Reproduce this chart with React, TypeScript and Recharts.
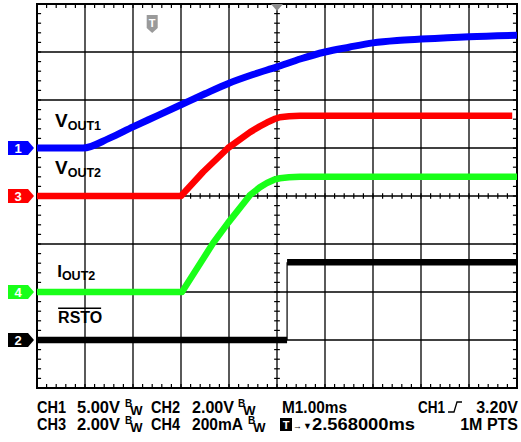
import React from "react";
import { LineChart, Line, XAxis, YAxis, ReferenceLine, ReferenceDot, ReferenceArea } from "recharts";

// ─── Data (screen divisions: 1 ms/div across, 0..8 div up from the bottom) ───
const VOUT1_T = [0, 0.96, 1.5, 2.0, 2.5, 3.0, 3.5, 4.0, 4.5, 5.0, 5.5, 6.0, 6.5, 7.0, 7.5, 8.0, 9.0, 10.0];
const VOUT1_V = [5.0, 5.0, 5.2, 5.44, 5.67, 5.9, 6.13, 6.35, 6.53, 6.69, 6.86, 7.0, 7.1, 7.19, 7.24, 7.27, 7.32, 7.35];

const VOUT2_T = [0, 3.0, 3.46, 3.98, 4.44, 4.64, 4.79, 4.94, 5.06, 5.25, 5.48, 9.9];
const VOUT2_V = [4.0, 4.0, 4.5, 5.0, 5.33, 5.45, 5.53, 5.6, 5.64, 5.66, 5.67, 5.67];

const IOUT2_T = [0, 3.02, 3.67, 3.98, 4.44, 4.64, 4.79, 4.94, 5.06, 5.25, 5.48, 10.0];
const IOUT2_V = [2.0, 2.0, 3.02, 3.44, 4.02, 4.18, 4.27, 4.34, 4.37, 4.39, 4.4, 4.4];

const RSTO_T = [0, 5.21, 5.21, 10.0];
const RSTO_V = [1.0, 1.0, 2.62, 2.62];

// channel ground markers on the left edge
const CH_NAMES = ["1", "3", "4", "2"];
const CH_LEVELS = [5.0, 4.0, 2.0, 1.0];
const CH_COLORS = ["#0000ff", "#ff0000", "#19ff19", "#000000"];

const TRIG_POS = 2.4;

// ─── Helpers ─────────────────────────────────────────────────────────────────
const zip = (t: number[], v: number[]) => t.map((x, i) => ({ t: x, v: v[i] }));

const FONT = "'Liberation Sans', Arial, sans-serif";
const GRID_X = [1, 2, 3, 4, 5, 6, 7, 8, 9];
const GRID_Y = [1, 2, 3, 4, 5, 6, 7];
const MINOR_X: number[] = [];
for (let i = 1; i < 50; i++) MINOR_X.push(i / 5);
const MINOR_Y: number[] = [];
for (let i = 1; i < 40; i++) MINOR_Y.push(i / 5);

const TL = 0.085; // minor tick length in div (~4px)

function chanMarker(name: string, color: string) {
  return (p: any) => {
    const { cx, cy } = p;
    return (
      <g>
        <polygon
          points={`${cx - 29},${cy - 7} ${cx - 9},${cy - 7} ${cx - 3},${cy} ${cx - 9},${cy + 7} ${cx - 29},${cy + 7}`}
          fill={color}
        />
        <text x={cx - 19} y={cy + 5} textAnchor="middle" fill="#fff" fontFamily={FONT} fontWeight={700} fontSize={13}>
          {name}
        </text>
      </g>
    );
  };
}

function traceLabel(main: string, sub: string, size: number, overline = false) {
  return (p: any) => {
    const { cx, cy } = p;
    return (
      <g>
        <text x={cx} y={cy} fontFamily={FONT} fontWeight={700} fontSize={size} fill="#000">
          {main}
          {sub ? <tspan fontSize={12.5} dy={3}>{sub}</tspan> : null}
        </text>
        {overline ? <line x1={cx} x2={cx + 43} y1={cy - 15} y2={cy - 15} stroke="#000" strokeWidth={1.5} /> : null}
      </g>
    );
  };
}

const trigMarker = (p: any) => {
  const { cx, cy } = p;
  return (
    <g>
      <polygon
        points={`${cx - 5.5},${cy + 11} ${cx + 5.5},${cy + 11} ${cx + 5.5},${cy + 24} ${cx},${cy + 29} ${cx - 5.5},${cy + 24}`}
        fill="#9a9a9a"
      />
      <text x={cx} y={cy + 23} textAnchor="middle" fill="#fff" fontFamily={FONT} fontWeight={700} fontSize={11}>T</text>
    </g>
  );
};

const posMarker = (p: any) => {
  const { cx, cy } = p;
  return <polygon points={`${cx - 6},${cy} ${cx + 6},${cy} ${cx},${cy + 7}`} fill="#8c8c8c" />;
};

// ─── Scope screen ────────────────────────────────────────────────────────────
function Screen() {
  const rsto = zip(RSTO_T, RSTO_V);
  const line = { type: "linear" as const, dataKey: "v", dot: false, isAnimationActive: false, strokeLinecap: "butt" as const };
  return (
    <LineChart width={521} height={442} margin={{ top: 4, right: 4, bottom: 54, left: 37 }}>
      <XAxis type="number" dataKey="t" domain={[0, 10]} hide allowDataOverflow />
      <YAxis type="number" domain={[0, 8]} hide allowDataOverflow />

      {GRID_X.map((x) => (
        <ReferenceLine key={"gx" + x} x={x} stroke="#000" strokeWidth={1.3} />
      ))}
      {GRID_Y.map((y) => (
        <ReferenceLine key={"gy" + y} y={y} stroke="#000" strokeWidth={1.3} />
      ))}
      {MINOR_X.map((x) => (
        <React.Fragment key={"mx" + x}>
          <ReferenceLine segment={[{ x, y: 8 }, { x, y: 8 - TL }]} stroke="#000" strokeWidth={1.2} />
          <ReferenceLine segment={[{ x, y: 0 }, { x, y: TL }]} stroke="#000" strokeWidth={1.2} />
          <ReferenceLine segment={[{ x, y: 4 - TL * 0.7 }, { x, y: 4 + TL * 0.7 }]} stroke="#000" strokeWidth={1.2} />
        </React.Fragment>
      ))}
      {MINOR_Y.map((y) => (
        <React.Fragment key={"my" + y}>
          <ReferenceLine segment={[{ x: 0, y }, { x: TL, y }]} stroke="#000" strokeWidth={1.2} />
          <ReferenceLine segment={[{ x: 10, y }, { x: 10 - TL, y }]} stroke="#000" strokeWidth={1.2} />
          <ReferenceLine segment={[{ x: 5 - TL * 0.7, y }, { x: 5 + TL * 0.7, y }]} stroke="#000" strokeWidth={1.2} />
        </React.Fragment>
      ))}
      <ReferenceArea x1={0} x2={10} y1={0} y2={8} fill="none" stroke="#000" strokeWidth={2} />

      <Line {...line} data={zip(VOUT1_T, VOUT1_V)} type="monotone" stroke={CH_COLORS[0]} strokeWidth={7} />
      <Line {...line} data={zip(VOUT2_T, VOUT2_V)} stroke={CH_COLORS[1]} strokeWidth={6.5} strokeLinejoin="round" />
      <Line {...line} data={zip(IOUT2_T, IOUT2_V)} stroke={CH_COLORS[2]} strokeWidth={6.5} strokeLinejoin="round" />
      <Line {...line} data={rsto.slice(0, 2)} stroke="#000" strokeWidth={6.5} />
      <Line {...line} data={rsto.slice(1, 3)} stroke="#000" strokeWidth={1.2} />
      <Line {...line} data={rsto.slice(2, 4)} stroke="#000" strokeWidth={6.5} />

      {CH_NAMES.map((n, i) => (
        <ReferenceDot key={"ch" + n} x={0} y={CH_LEVELS[i]} r={0} shape={chanMarker(n, CH_COLORS[i])} />
      ))}
      <ReferenceDot x={0.375} y={5.44} r={0} shape={traceLabel("V", "OUT1", 19)} />
      <ReferenceDot x={0.375} y={4.46} r={0} shape={traceLabel("V", "OUT2", 19)} />
      <ReferenceDot x={0.42} y={2.31} r={0} shape={traceLabel("I", "OUT2", 17)} />
      <ReferenceDot x={0.44} y={1.35} r={0} shape={traceLabel("RSTO", "", 16, true)} />
      <ReferenceDot x={TRIG_POS} y={8} r={0} shape={trigMarker} />
      <ReferenceDot x={5} y={8} r={0} shape={posMarker} />
    </LineChart>
  );
}

// ─── Readout line under the screen ───────────────────────────────────────────
function Bw({ x, y }: { x: number; y: number }) {
  return (
    <text x={x} y={y - 6}>
      <tspan fontSize={10}>B</tspan>
      <tspan fontSize={13} dy={8} dx={-2}>W</tspan>
    </text>
  );
}

function Readout() {
  const y1 = 413;
  const y2 = 430;
  return (
    <svg width={521} height={442} style={{ position: "absolute", left: 0, top: 0 }}>
      <g fontFamily={FONT} fontWeight={700} fontSize={16} fill="#000">
        <text x={37} y={y1} textLength={29} lengthAdjust="spacingAndGlyphs">CH1</text>
        <text x={77} y={y1} textLength={43} lengthAdjust="spacingAndGlyphs">5.00V</text>
        <Bw x={125} y={y1} />
        <text x={151} y={y1} textLength={29} lengthAdjust="spacingAndGlyphs">CH2</text>
        <text x={192} y={y1} textLength={42} lengthAdjust="spacingAndGlyphs">2.00V</text>
        <Bw x={238} y={y1} />
        <text x={282} y={y1} textLength={65} lengthAdjust="spacingAndGlyphs">M1.00ms</text>
        <text x={418} y={y1} textLength={27} lengthAdjust="spacingAndGlyphs">CH1</text>
        <path d={`M448 ${y1 - 1} H454 L457 ${y1 - 11} H462`} fill="none" stroke="#000" strokeWidth={1.3} />
        <text x={518} y={y1} textAnchor="end">3.20V</text>

        <text x={37} y={y2} textLength={29} lengthAdjust="spacingAndGlyphs">CH3</text>
        <text x={77} y={y2} textLength={43} lengthAdjust="spacingAndGlyphs">2.00V</text>
        <Bw x={125} y={y2} />
        <text x={151} y={y2} textLength={29} lengthAdjust="spacingAndGlyphs">CH4</text>
        <text x={192} y={y2} textLength={51} lengthAdjust="spacingAndGlyphs">200mA</text>
        <Bw x={248} y={y2} />
        <rect x={280} y={y2 - 12} width={12} height={13} fill="#000" />
        <text x={286} y={y2 - 1} textAnchor="middle" fill="#fff" fontSize={11}>T</text>
        <text x={293} y={y2 - 1} fontSize={9}>
          →<tspan dx={1}>▼</tspan>
        </text>
        <text x={312} y={y2} textLength={103} lengthAdjust="spacingAndGlyphs">2.568000ms</text>
        <text x={518} y={y2} textAnchor="end">1M PTS</text>
      </g>
    </svg>
  );
}

export default function App() {
  return (
    <div style={{ position: "absolute", left: 0, top: 0, width: 521, height: 442, background: "#fff" }}>
      <Screen />
      <Readout />
    </div>
  );
}
